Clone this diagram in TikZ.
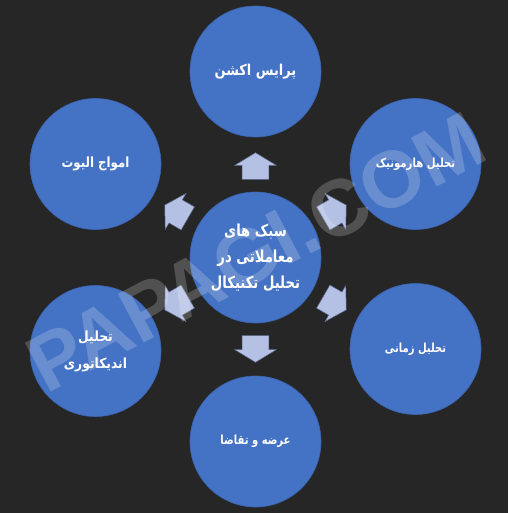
\documentclass[tikz,border=0pt]{standalone}
\usepackage{fontspec}
\TeXXeTstate=1
\newfontfamily\fa[Script=Arabic]{DejaVu Sans}
\newfontfamily\wm{Liberation Sans}
\definecolor{bgc}{HTML}{262626}
\definecolor{bluec}{HTML}{4472C4}
\definecolor{blueedge}{HTML}{3B64AE}
\definecolor{arrowc}{HTML}{B4C1E5}
\definecolor{arrowedge}{HTML}{5E6A8C}
\tikzset{
  bub/.style={circle, fill=bluec, draw=blueedge, line width=0.6pt, minimum size=131pt, inner sep=0pt, text=white, align=center},
  arrowfill/.style={fill=arrowc, draw=arrowedge, line width=0.5pt, line join=miter},
  blockarrow/.pic={\draw[arrowfill] (78.2,-13.3) -- (92.2,-13.3) -- (92.2,-20.7) -- (104.8,0) -- (92.2,20.7) -- (92.2,13.3) -- (78.2,13.3) -- cycle;}
}
\begin{document}
\begin{tikzpicture}[x=1pt,y=-1pt]
\fill[bgc] (0,0) rectangle (508,513);
\useasboundingbox (0,0) rectangle (508,513);
% outer circles
\node[bub, font=\fa\bfseries\fontsize{15}{18}\selectfont] (top) at (255.5,71.5) {\scalebox{0.86}[1]{\beginR پرایس اکشن\endR}};
\node[bub, font=\fa\bfseries\fontsize{14}{18}\selectfont] (ul) at (95.5,164) {\scalebox{0.84}[1]{\beginR امواج الیوت\endR}};
\node[bub, font=\fa\bfseries\fontsize{12.5}{18}\selectfont] (ur) at (415.5,164) {\scalebox{0.81}[1]{\beginR تحلیل هارمونیک\endR}};
\node[bub, font=\fa\bfseries\fontsize{14}{27}\selectfont] (ll) at (95.5,351) {\scalebox{0.88}[1]{\beginR تحلیل\endR}\\\scalebox{0.88}[1]{\beginR اندیکاتوری\endR}};
\node[bub, font=\fa\bfseries\fontsize{12.5}{18}\selectfont] (lr) at (415.5,349) {\scalebox{0.8}[1]{\beginR تحلیل زمانی\endR}};
\node[bub, font=\fa\bfseries\fontsize{12.5}{18}\selectfont] (bot) at (255.5,441.5) {\scalebox{0.8}[1]{\beginR عرضه و تقاضا\endR}};
% center
\node[bub, font=\fa\bfseries\fontsize{16.5}{26}\selectfont] (c) at (255.5,257.5) {\scalebox{0.8}[1]{\beginR سبک های\endR}\\\scalebox{0.8}[1]{\beginR معاملاتی در\endR}\\\scalebox{0.8}[1]{\beginR تحلیل تکنیکال\endR}};
% arrows
\foreach \ang in {90,30,-30,-90,-150,150} {
  \pic[rotate=\ang] at (c) {blockarrow};
}
% watermark
\node[rotate=28, anchor=base west, inner sep=0pt, font=\wm\bfseries\fontsize{80}{80}\selectfont, text=white, opacity=0.2] (wmk) at (46,395) {PAPAGI.COM};
\end{tikzpicture}
\end{document}
